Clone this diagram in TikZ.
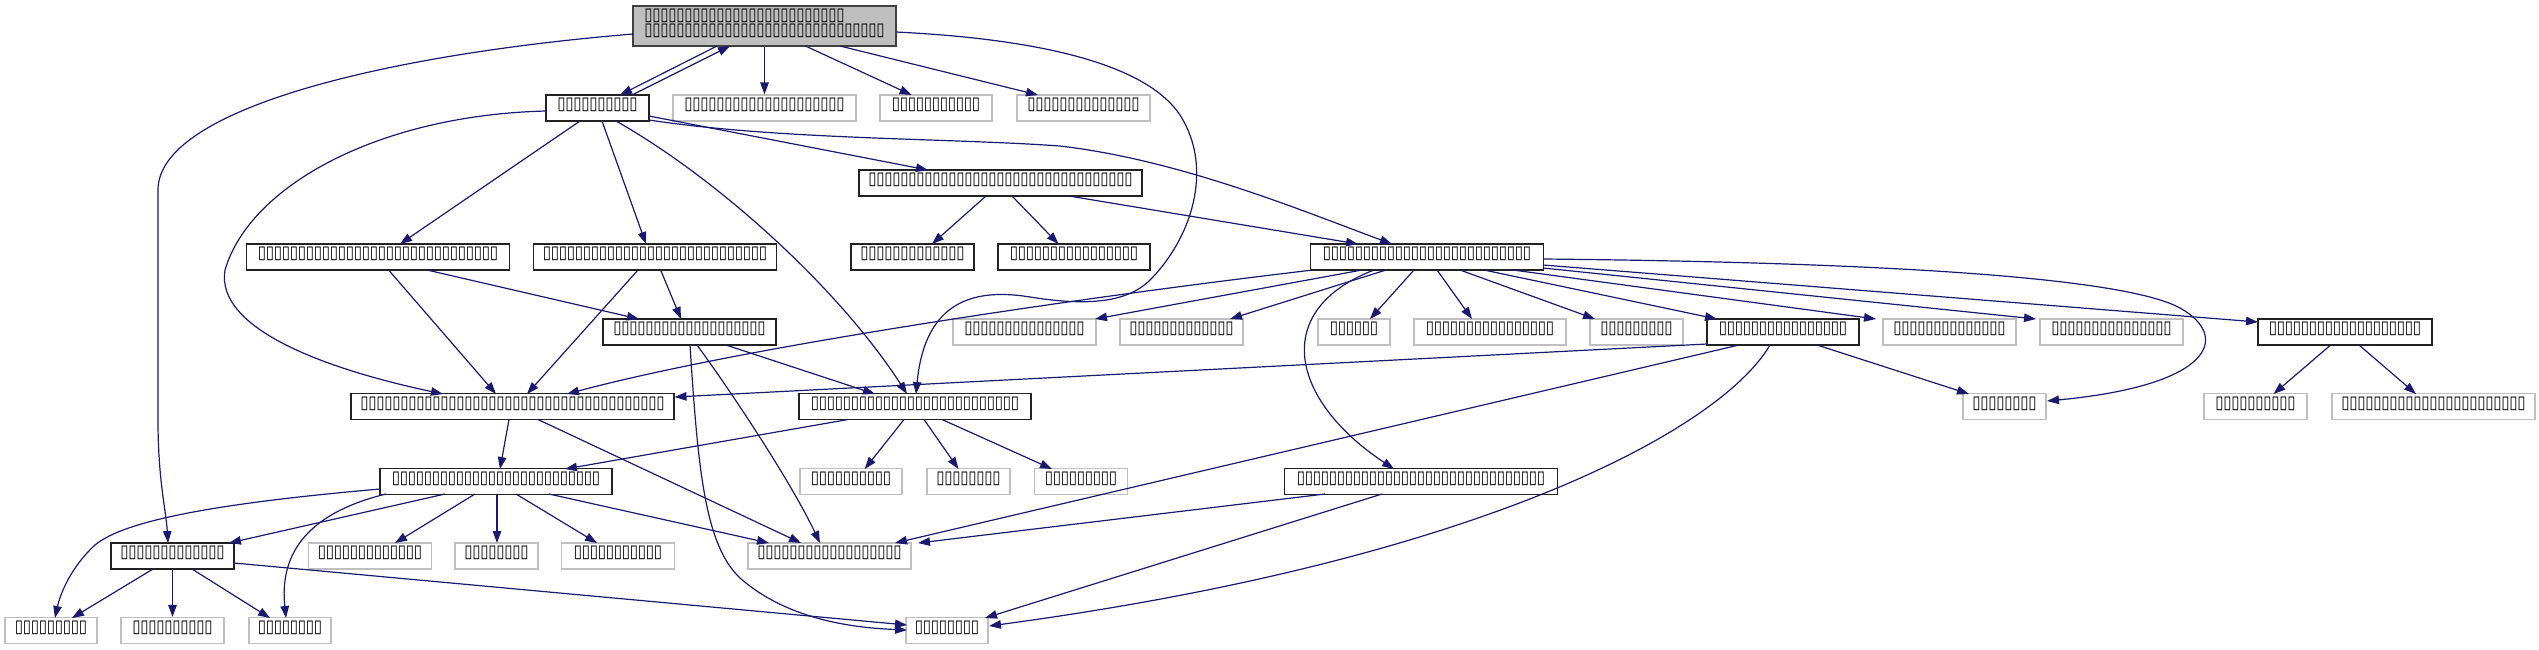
\documentclass[tikz,border=0pt]{standalone}
\usepackage{fontspec}
\usepackage{graphicx}
\usetikzlibrary{arrows.meta,calc}
\newfontfamily\tofufont{DejaVu Sans}
\definecolor{edgecol}{HTML}{191970}
\definecolor{graybd}{HTML}{BFBFBF}
\definecolor{topfill}{HTML}{BFBFBF}
\definecolor{topbd}{HTML}{404040}
\definecolor{blkbd}{HTML}{222222}
\newcommand{\tfg}{\makebox[8pt]{\resizebox{8.3pt}{11.5pt}{\tofufont ▯}}}
\newcommand{\tofus}[1]{\foreach \ii in {1,...,#1}{\tfg}}
\tikzset{
  nd/.style={rectangle, inner sep=0pt, minimum height=26pt, text height=11.5pt, text depth=8pt, line width=1.1pt},
  blk/.style={nd, draw=blkbd},
  gry/.style={nd, draw=graybd},
  topn/.style={rectangle, draw=topbd, fill=topfill, line width=1.1pt, inner xsep=11.5pt, inner ysep=0pt,
    minimum width=263pt, minimum height=40pt, text width=240pt, align=left,
    text height=11.5pt, text depth=22.5pt, font=\fontsize{10pt}{15pt}\selectfont},
  edge/.style={draw=edgecol, line width=1.2pt, -{Triangle[length=12pt,width=8.5pt]}},
}
\begin{document}
\begin{tikzpicture}[x=1pt,y=-1pt]
\useasboundingbox (0,0) rectangle (2539,649);
% nodes
\node[topn] (T) at (764.5,26) {\tofus{25}\\\tofus{30}};
\node[blk, minimum width=103pt] (n1) at (597.5,108) {\tofus{10}};
\node[gry, minimum width=183pt] (G1) at (764.5,108) {\tofus{20}};
\node[gry, minimum width=112pt] (G2) at (936,108) {\tofus{11}};
\node[gry, minimum width=133pt] (G3) at (1083.5,108) {\tofus{14}};
\node[blk, minimum width=283pt] (B1) at (1000.5,183) {\tofus{33}};
\node[blk, minimum width=262.5pt] (A1) at (378,257) {\tofus{30}};
\node[blk, minimum width=242.5pt] (A2) at (655,257) {\tofus{28}};
\node[blk, minimum width=123pt] (B2) at (912.5,257) {\tofus{13}};
\node[blk, minimum width=152pt] (B3) at (1074,257) {\tofus{16}};
\node[blk, minimum width=232.4pt] (C) at (1427,257) {\tofus{26}};
\node[blk, minimum width=173pt] (A3) at (689.5,332) {\tofus{19}};
\node[gry, minimum width=143pt] (g1024) at (1024.5,332) {\tofus{15}};
\node[gry, minimum width=123pt] (g1181) at (1181.5,332) {\tofus{13}};
\node[gry, minimum width=72pt] (C1) at (1354,332) {\tofus{6}};
\node[gry, minimum width=152pt] (C2) at (1490,332) {\tofus{16}};
\node[gry, minimum width=93pt] (C3) at (1636.5,332) {\tofus{9}};
\node[blk, minimum width=152pt] (D) at (1783,332) {\tofus{16}};
\node[gry, minimum width=133pt] (C5) at (1949.5,332) {\tofus{14}};
\node[gry, minimum width=143pt] (C6) at (2111.5,332) {\tofus{15}};
\node[blk, minimum width=174pt] (E) at (2345,332) {\tofus{19}};
\node[blk, minimum width=323pt] (F) at (512.5,406.5) {\tofus{38}};
\node[blk, minimum width=232pt] (J) at (915,406.5) {\tofus{26}};
\node[gry, minimum width=83pt] (N) at (2004.5,406.5) {\tofus{8}};
\node[gry, minimum width=103pt] (E1) at (2255.5,406.5) {\tofus{10}};
\node[gry, minimum width=203pt] (E2) at (2433.5,406.5) {\tofus{23}};
\node[blk, minimum width=232pt] (H) at (496,481.5) {\tofus{26}};
\node[gry, minimum width=102pt] (J1) at (851,481.5) {\tofus{10}};
\node[gry, minimum width=83pt] (J2) at (968.5,481.5) {\tofus{8}};
\node[gry, minimum width=92.5pt] (J3) at (1081,481.5) {\tofus{9}};
\node[blk, minimum width=272.5pt] (M) at (1421,481.5) {\tofus{31}};
\node[blk, minimum width=123pt] (I) at (172.5,556) {\tofus{13}};
\node[gry, minimum width=122.5pt] (g370) at (370,556) {\tofus{13}};
\node[gry, minimum width=83pt] (g496) at (496.5,556) {\tofus{8}};
\node[gry, minimum width=112.4pt] (g617) at (618,556) {\tofus{11}};
\node[gry, minimum width=163pt] (K) at (829.5,556) {\tofus{18}};
\node[gry, minimum width=92pt] (b51) at (51,630.5) {\tofus{9}};
\node[gry, minimum width=103pt] (b172) at (172.5,630.5) {\tofus{10}};
\node[gry, minimum width=82pt] (b290) at (290,630.5) {\tofus{8}};
\node[gry, minimum width=82pt] (L) at (947,630.5) {\tofus{8}};
% edges from T
\draw[edge] ($(T)+(-47.5,20)$) -- ($(n1)+(22.5,-13)$);
\draw[edge] ($(n1)+(34.5,-13)$) -- ($(T)+(-34.5,20)$);
\draw[edge] (T.south) -- (G1.north);
\draw[edge] ($(T)+(41,20)$) -- ($(G2)+(-24.4,-13)$);
\draw[edge] ($(T)+(75.5,20)$) -- ($(G3)+(-45.5,-13)$);
\draw[edge] ($(T)+(-131.5,8)$) .. controls (380,55) and (158,110) .. (158,190) -- (158,420) .. controls (158,480) and (166,510) .. ($(I)+(-4.5,-13)$);
\draw[edge] ($(T)+(131.5,6)$) .. controls (1060,40) and (1150,70) .. (1180,115) .. controls (1215,170) and (1190,240) .. (1150,280) .. controls (1125,305) and (1080,305) .. (1030,297) .. controls (975,288) and (925,300) .. ($(J)+(1,-12.5)$);
% edges from n1
\draw[edge] ($(n1)+(-17.5,13)$) -- ($(A1)+(22,-13)$);
\draw[edge] ($(n1)+(4.5,13)$) -- ($(A2)+(-9,-13)$);
\draw[edge] ($(n1)+(-51.5,3)$) .. controls (380,115) and (250,185) .. (225,270) .. controls (215,330) and (330,370) .. ($(F)+(-69.5,-12.5)$);
\draw[edge] ($(n1)+(18.5,13)$) .. controls (720,180) and (840,290) .. ($(J)+(-8,-12.5)$);
\draw[edge] ($(n1)+(51.5,8)$) -- ($(B1)+(-72.5,-13)$);
\draw[edge] ($(n1)+(51.5,12)$) .. controls (780,140) and (950,138) .. (1060,146) .. controls (1180,160) and (1300,210) .. ($(C)+(-35,-13)$);
% edges from B1
\draw[edge] ($(B1)+(-14.5,13)$) -- ($(B2)+(19.5,-13)$);
\draw[edge] ($(B1)+(11.5,13)$) -- ($(B3)+(-15.5,-13)$);
\draw[edge] ($(B1)+(68.5,13)$) -- ($(C)+(-69,-13)$);
% A1, A2
\draw[edge] ($(A1)+(10.6,13)$) -- ($(F)+(-16.5,-12.5)$);
\draw[edge] ($(A1)+(49,13)$) -- ($(A3)+(-50.5,-13)$);
\draw[edge] ($(A2)+(-17,13)$) -- ($(F)+(14.5,-12.5)$);
\draw[edge] ($(A2)+(5.6,13)$) -- ($(A3)+(-8.5,-13)$);
% A3
\draw[edge] ($(A3)+(36.5,13)$) -- ($(J)+(-40,-12.5)$);
\draw[edge] ($(A3)+(7.5,13)$) .. controls (730,390) and (790,480) .. ($(K)+(-9.5,-13)$);
\draw[edge] ($(A3)+(0.5,13)$) .. controls (698,470) and (705,545) .. (740,578) .. controls (790,622) and (860,628) .. ($(L)+(-40,-0.5)$);
% C
\draw[edge] ($(C)+(-114,13)$) .. controls (1100,295) and (750,345) .. ($(F)+(54.5,-12.5)$);
\draw[edge] ($(C)+(-65,13)$) -- ($(g1024)+(70.5,-13)$);
\draw[edge] ($(C)+(-41,13)$) -- ($(g1181)+(48.5,-13)$);
\draw[edge] ($(C)+(-13,13)$) -- ($(C1)+(16,-13)$);
\draw[edge] ($(C)+(10,13)$) -- ($(C2)+(-18,-13)$);
\draw[edge] ($(C)+(33,13)$) -- ($(C3)+(-41.5,-13)$);
\draw[edge] ($(C)+(57,13)$) -- ($(D)+(-66,-13)$);
\draw[edge] ($(C)+(86,13)$) -- ($(C5)+(-73.5,-13)$);
\draw[edge] ($(C)+(116,11)$) -- ($(C6)+(-75.5,-13)$);
\draw[edge] ($(C)+(116,8)$) -- ($(E)+(-87,-10)$);
\draw[edge] ($(C)+(116,2)$) .. controls (1850,262) and (2120,275) .. (2180,308) .. controls (2230,336) and (2215,385) .. ($(N)+(42.5,-5.5)$);
\draw[edge] ($(C)+(-53,13)$) .. controls (1270,310) and (1290,400) .. ($(M)+(-27,-12.5)$);
% D
\draw[edge] ($(D)+(-76,12)$) -- ($(F)+(162,-9.5)$);
\draw[edge] ($(D)+(-44,13)$) -- ($(K)+(65.5,-13)$);
\draw[edge] ($(D)+(-13,13)$) .. controls (1720,430) and (1480,560) .. ($(L)+(42,-4.5)$);
\draw[edge] ($(D)+(34,13)$) -- ($(N)+(-35.5,-12.5)$);
% E
\draw[edge] ($(E)+(-14.4,13)$) -- ($(E1)+(18,-12.5)$);
\draw[edge] ($(E)+(14,13)$) -- ($(E2)+(-17.5,-12.5)$);
% J
\draw[edge] ($(J)+(-67,13)$) -- ($(H)+(69,-12.5)$);
\draw[edge] ($(J)+(-11,13)$) -- ($(J1)+(13.7,-12.5)$);
\draw[edge] ($(J)+(9,13)$) -- ($(J2)+(-10,-12.5)$);
\draw[edge] ($(J)+(27,13)$) -- ($(J3)+(-29,-12.5)$);
% F
\draw[edge] ($(F)+(-3.5,13)$) -- ($(H)+(4,-12.5)$);
\draw[edge] ($(F)+(25.5,13)$) -- ($(K)+(-28.5,-13)$);
% H
\draw[edge] ($(H)+(-51,12.5)$) -- ($(I)+(56.5,-13)$);
\draw[edge] ($(H)+(-116,7.5)$) .. controls (220,503) and (125,520) .. (95,545) .. controls (70,568) and (60,595) .. ($(b51)+(4,-12.5)$);
\draw[edge] ($(H)+(-110,12.5)$) .. controls (300,515) and (280,560) .. ($(b290)+(-4,-12.5)$);
\draw[edge] ($(H)+(-21,12.5)$) -- ($(g370)+(25,-13)$);
\draw[edge] ($(H)+(1,12.5)$) -- ($(g496)+(0.5,-13)$);
\draw[edge] ($(H)+(20,12.5)$) -- ($(g617)+(-21,-13)$);
\draw[edge] ($(H)+(53,12.5)$) -- ($(K)+(-60.5,-13)$);
% I
\draw[edge] ($(I)+(-19.5,13)$) -- ($(b51)+(21,-12.5)$);
\draw[edge] (I.south) -- (b172.north);
\draw[edge] ($(I)+(19.5,13)$) -- ($(b290)+(-20,-12.5)$);
\draw[edge] ($(I)+(61.5,7)$) -- ($(L)+(-40,-5.5)$);
% M
\draw[edge] ($(M)+(-96,12.5)$) -- ($(K)+(88.5,-13)$);
\draw[edge] ($(M)+(-39,12.5)$) -- ($(L)+(38,-12.5)$);
\end{tikzpicture}
\end{document}
